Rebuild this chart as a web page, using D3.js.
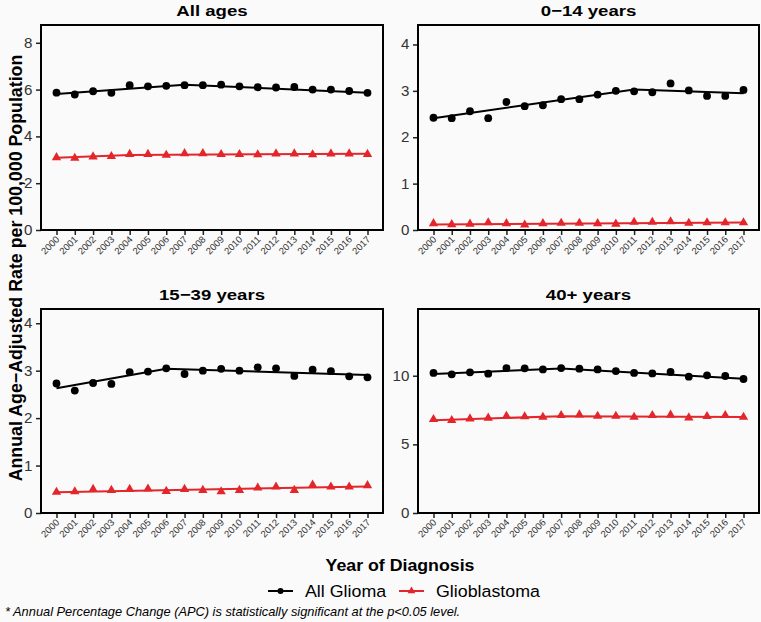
<!DOCTYPE html>
<html><head><meta charset="utf-8">
<script src="https://cdn.jsdelivr.net/npm/d3@7"></script>
<style>
html,body{margin:0;padding:0;background:#fafafa;}
svg{display:block;font-family:"Liberation Sans",Arial,sans-serif;}
</style></head>
<body>
<svg id="chart" width="761" height="622"></svg>
<script>
const years = [2000,2001,2002,2003,2004,2005,2006,2007,2008,2009,2010,2011,2012,2013,2014,2015,2016,2017];
const panelTitles = ["All ages","0\u221214 years","15\u221239 years","40+ years"];
const seriesNames = ["All Glioma","Glioblastoma"];

const gliomaAll   = [5.87,5.79,5.93,5.86,6.19,6.14,6.16,6.19,6.19,6.21,6.14,6.10,6.09,6.11,6.00,6.00,5.94,5.86];
const gbmAll      = [3.10,3.07,3.13,3.15,3.24,3.24,3.20,3.27,3.27,3.23,3.23,3.22,3.26,3.26,3.22,3.26,3.26,3.24];
const glioma0_14  = [2.42,2.41,2.56,2.41,2.76,2.67,2.69,2.82,2.82,2.92,3.00,2.99,2.97,3.16,3.01,2.89,2.89,3.02];
const gbm0_14     = [0.14,0.12,0.13,0.16,0.14,0.11,0.14,0.15,0.15,0.14,0.13,0.17,0.17,0.18,0.15,0.16,0.16,0.16];
const glioma15_39 = [2.73,2.58,2.74,2.72,2.97,2.98,3.05,2.93,3.00,3.04,3.00,3.07,3.05,2.89,3.02,2.99,2.88,2.86];
const gbm15_39    = [0.44,0.45,0.50,0.48,0.50,0.51,0.46,0.50,0.48,0.45,0.48,0.53,0.55,0.48,0.59,0.55,0.55,0.58];
const glioma40    = [10.20,10.10,10.25,10.15,10.56,10.54,10.46,10.56,10.51,10.46,10.34,10.20,10.17,10.27,9.93,10.03,9.98,9.76];
const gbm40       = [6.82,6.75,6.87,6.92,7.06,7.02,6.99,7.11,7.16,7.06,7.06,6.99,7.11,7.14,6.94,7.04,7.11,6.99];

// joinpoint fitted trend vertices [year, value]
const fitGliomaAll   = [[2000,5.81],[2007,6.21],[2017,5.86]];
const fitGbmAll      = [[2000,3.09],[2004,3.21],[2017,3.26]];
const fitGlioma0_14  = [[2000,2.41],[2011,3.03],[2017,2.95]];
const fitGbm0_14     = [[2000,0.12],[2017,0.16]];
const fitGlioma15_39 = [[2000,2.63],[2006,3.04],[2017,2.91]];
const fitGbm15_39    = [[2000,0.44],[2017,0.56]];
const fitGlioma40    = [[2000,10.12],[2007,10.52],[2017,9.78]];
const fitGbm40       = [[2000,6.76],[2007,7.05],[2017,6.99]];

const yMaxes = [8.76, 4.42, 4.3, 14.86];
const yTicks = [[0,2,4,6,8],[0,1,2,3,4],[0,1,2,3,4],[0,5,10]];

const colors = ["#000000","#e3262b"];

const panels = [
  {title: panelTitles[0], g: gliomaAll,   b: gbmAll,   fg: fitGliomaAll,   fb: fitGbmAll},
  {title: panelTitles[1], g: glioma0_14,  b: gbm0_14,  fg: fitGlioma0_14,  fb: fitGbm0_14},
  {title: panelTitles[2], g: glioma15_39, b: gbm15_39, fg: fitGlioma15_39, fb: fitGbm15_39},
  {title: panelTitles[3], g: glioma40,    b: gbm40,    fg: fitGlioma40,    fb: fitGbm40}
];

const svg = d3.select("#chart");
svg.append("rect").attr("width",761).attr("height",622).attr("fill","#fafafa");

// helper: text stretched horizontally (source figure is slightly wide-stretched)
function stext(parent, x, y, str, size, opts = {}) {
  const sx = opts.sx || 1.15;
  const t = parent.append("text")
    .attr("transform", `translate(${x},${y}) scale(${sx},1)`)
    .attr("font-size", size)
    .attr("text-anchor", opts.anchor || "start")
    .attr("fill", opts.fill || "#000")
    .text(str);
  if (opts.bold) t.attr("font-weight", "bold");
  if (opts.italic) t.attr("font-style", "italic");
  return t;
}

const colL = [41, 418], colR = [383, 759];
const rowT = [25, 309], rowB = [230, 513];
const pad = 15.5;
const tri = d3.symbol().type(d3.symbolTriangle).size(38);

panels.forEach((p, i) => {
  const c = i % 2, r = Math.floor(i / 2);
  const L = colL[c], R = colR[c], T = rowT[r], B = rowB[r];
  const x = d3.scaleLinear().domain([years[0], years[years.length-1]]).range([L + pad, R - pad]);
  const y = d3.scaleLinear().domain([0, yMaxes[i]]).range([B, T]);
  const g = svg.append("g");

  g.append("rect").attr("x", L).attr("y", T).attr("width", R - L).attr("height", B - T)
    .attr("fill", "#fafafa");

  // title
  stext(g, (L + R) / 2, T - 9.5, p.title, 15.5, {bold: true, anchor: "middle", sx: 1.2});

  // y axis
  const ya = g.append("g").attr("transform", `translate(${L},0)`)
    .call(d3.axisLeft(y).tickValues(yTicks[i]).tickSize(5).tickPadding(3).tickFormat(d3.format("d")));
  ya.select(".domain").remove();
  ya.selectAll(".tick line").attr("stroke", "#222").attr("stroke-width", 1.5);
  ya.selectAll(".tick text").attr("font-size", 14).attr("fill", "#333")
    .attr("font-family", "Liberation Sans, Arial, sans-serif")
    .attr("transform", "scale(1.08,1)");

  // x axis
  const xa = g.append("g").attr("transform", `translate(0,${B})`)
    .call(d3.axisBottom(x).tickValues(years).tickSize(5).tickFormat(d3.format("d")));
  xa.select(".domain").remove();
  xa.selectAll(".tick line").attr("stroke", "#222").attr("stroke-width", 1.5);
  xa.selectAll(".tick text").attr("font-size", 9.5).attr("fill", "#333")
    .attr("font-family", "Liberation Sans, Arial, sans-serif")
    .attr("text-anchor", "end").attr("dy", null).attr("y", 0)
    .attr("transform", "translate(3,10) rotate(-45)");

  const line = d3.line().x(d => x(d[0])).y(d => y(d[1]));

  // glioblastoma
  g.append("path").datum(p.fb).attr("d", line).attr("fill", "none")
    .attr("stroke", colors[1]).attr("stroke-width", 2);
  g.selectAll(".tri").data(p.b).enter().append("path")
    .attr("d", tri).attr("fill", colors[1])
    .attr("transform", (d, k) => `translate(${x(years[k])},${y(d)})`);

  // all glioma
  g.append("path").datum(p.fg).attr("d", line).attr("fill", "none")
    .attr("stroke", colors[0]).attr("stroke-width", 2);
  g.selectAll(".dot").data(p.g).enter().append("circle")
    .attr("cx", (d, k) => x(years[k])).attr("cy", d => y(d)).attr("r", 3.9).attr("fill", colors[0]);

  // border
  g.append("rect").attr("x", L).attr("y", T).attr("width", R - L).attr("height", B - T)
    .attr("fill", "none").attr("stroke", "#000").attr("stroke-width", 2);
});

// axis titles
svg.append("text").attr("transform", "translate(22,268) rotate(-90)")
  .attr("text-anchor", "middle").attr("font-size", 17.8).attr("font-weight", "bold")
  .text("Annual Age\u2212Adjusted Rate per 100,000 Population");
stext(svg, 400, 571, "Year of Diagnosis", 16, {bold: true, anchor: "middle", sx: 1.11});

// legend
const leg = svg.append("g");
const legItems = [
  {name: seriesNames[0], x0: 268, color: colors[0], shape: "circle"},
  {name: seriesNames[1], x0: 399, color: colors[1], shape: "tri"}
];
legItems.forEach(it => {
  const ly = 591;
  leg.append("line").attr("x1", it.x0).attr("x2", it.x0 + 25).attr("y1", ly).attr("y2", ly)
    .attr("stroke", it.color).attr("stroke-width", 2);
  if (it.shape === "circle") {
    leg.append("circle").attr("cx", it.x0 + 12.5).attr("cy", ly).attr("r", 3).attr("fill", it.color);
  } else {
    leg.append("path").attr("d", d3.symbol().type(d3.symbolTriangle).size(26))
      .attr("transform", `translate(${it.x0 + 12.5},${ly})`).attr("fill", it.color);
  }
  stext(leg, it.x0 + 37, ly + 6, it.name, 16.5, {sx: 1.08});
});

// footnote
stext(svg, 5, 616, "* Annual Percentage Change (APC) is statistically significant at the p<0.05 level.",
  12, {italic: true, sx: 1.07});
</script>
</body></html>
